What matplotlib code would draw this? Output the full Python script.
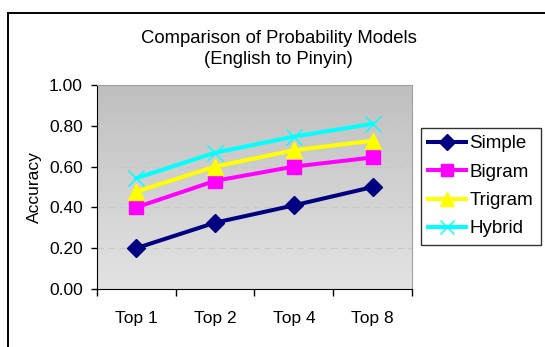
import numpy as np
import matplotlib.pyplot as plt
from matplotlib.patches import Rectangle

plt.rcParams['font.family'] = ['Liberation Sans', 'DejaVu Sans']

# Dane: dokladnosc modeli dla kolejnych progow
categories = ['Top 1', 'Top 2', 'Top 4', 'Top 8']
simple = [0.20, 0.325, 0.41, 0.50]
bigram = [0.40, 0.53, 0.60, 0.645]
trigram = [0.477, 0.60, 0.68, 0.727]
hybrid = [0.543, 0.668, 0.747, 0.81]

fig = plt.figure(figsize=(5.45, 3.47), dpi=100)
ax = fig.add_axes([0.1774, 0.1671, 0.579, 0.588])

# Ramka wokol calego wykresu (ucieta z prawej i z dolu)
fig.patches.append(Rectangle((8 / 545, -0.1), 1.2, 1.1 - 12.5 / 347,
                             transform=fig.transFigure, fill=False,
                             edgecolor='black', linewidth=1.4, zorder=0))

# Szare tlo z gradientem
grad = np.linspace(0, 1, 256).reshape(-1, 1)
ax.imshow(grad, extent=[-0.5, 3.5, 0, 1], aspect='auto', origin='lower',
          cmap=plt.matplotlib.colors.LinearSegmentedColormap.from_list(
              'g', ['#e3e3e3', '#bfbfbf']), zorder=0)

for yv in [0.2, 0.4, 0.6, 0.8]:
    ax.axhline(yv, color='#c8c8c8', linestyle=(0, (6, 4)), linewidth=0.8, zorder=1)

x = np.arange(len(categories))
lw = 2.9
ax.plot(x, simple, color='#000080', marker='D', markersize=9, linewidth=lw,
        label='Simple', zorder=3)
ax.plot(x, bigram, color='#ff00ff', marker='s', markersize=10, linewidth=lw,
        label='Bigram', zorder=4)
ax.plot(x, trigram, color='#ffff00', marker='^', markersize=11, linewidth=lw,
        label='Trigram', zorder=5)
ax.plot(x, hybrid, color='#00ffff', marker='x', markersize=11, markeredgewidth=1.0,
        linewidth=lw, label='Hybrid', zorder=6)

ax.set_xlim(-0.5, 3.5)
ax.set_ylim(0, 1)
ax.set_xticks(np.arange(-0.5, 4, 1))
ax.set_xticklabels([])
ax.set_xticks(x, minor=True)
ax.set_xticklabels(categories, minor=True, fontsize=12.5)
ax.tick_params(axis='x', which='minor', length=0, pad=16)
ax.tick_params(axis='x', which='major', length=5, direction='out', width=1)
ax.set_yticks(np.arange(0, 1.01, 0.2))
ax.set_yticklabels(['%.2f' % v for v in np.arange(0, 1.01, 0.2)], fontsize=12.5)
ax.tick_params(axis='y', length=4.5, direction='out', width=1, pad=5.5)

ax.spines['left'].set_color('black')
ax.spines['bottom'].set_color('black')
ax.spines['top'].set_color('#a0a0a0')
ax.spines['right'].set_color('#a0a0a0')

ax.set_ylabel('Accuracy', fontsize=12.5, labelpad=5)

fig.text(0.511, 0.860, 'Comparison of Probability Models\n(English to Pinyin)',
         ha='center', va='center', fontsize=13.3, linespacing=1.3)

leg = fig.legend(loc='upper left', bbox_to_anchor=(0.772, 0.632), fontsize=13.5,
                 frameon=True, fancybox=False, edgecolor='black',
                 borderaxespad=0, handlelength=2.0, handletextpad=0.2,
                 labelspacing=0.6, borderpad=0.4, markerscale=0.9)
leg.get_frame().set_linewidth(1.0)

fig.savefig('out.png', dpi=100)
